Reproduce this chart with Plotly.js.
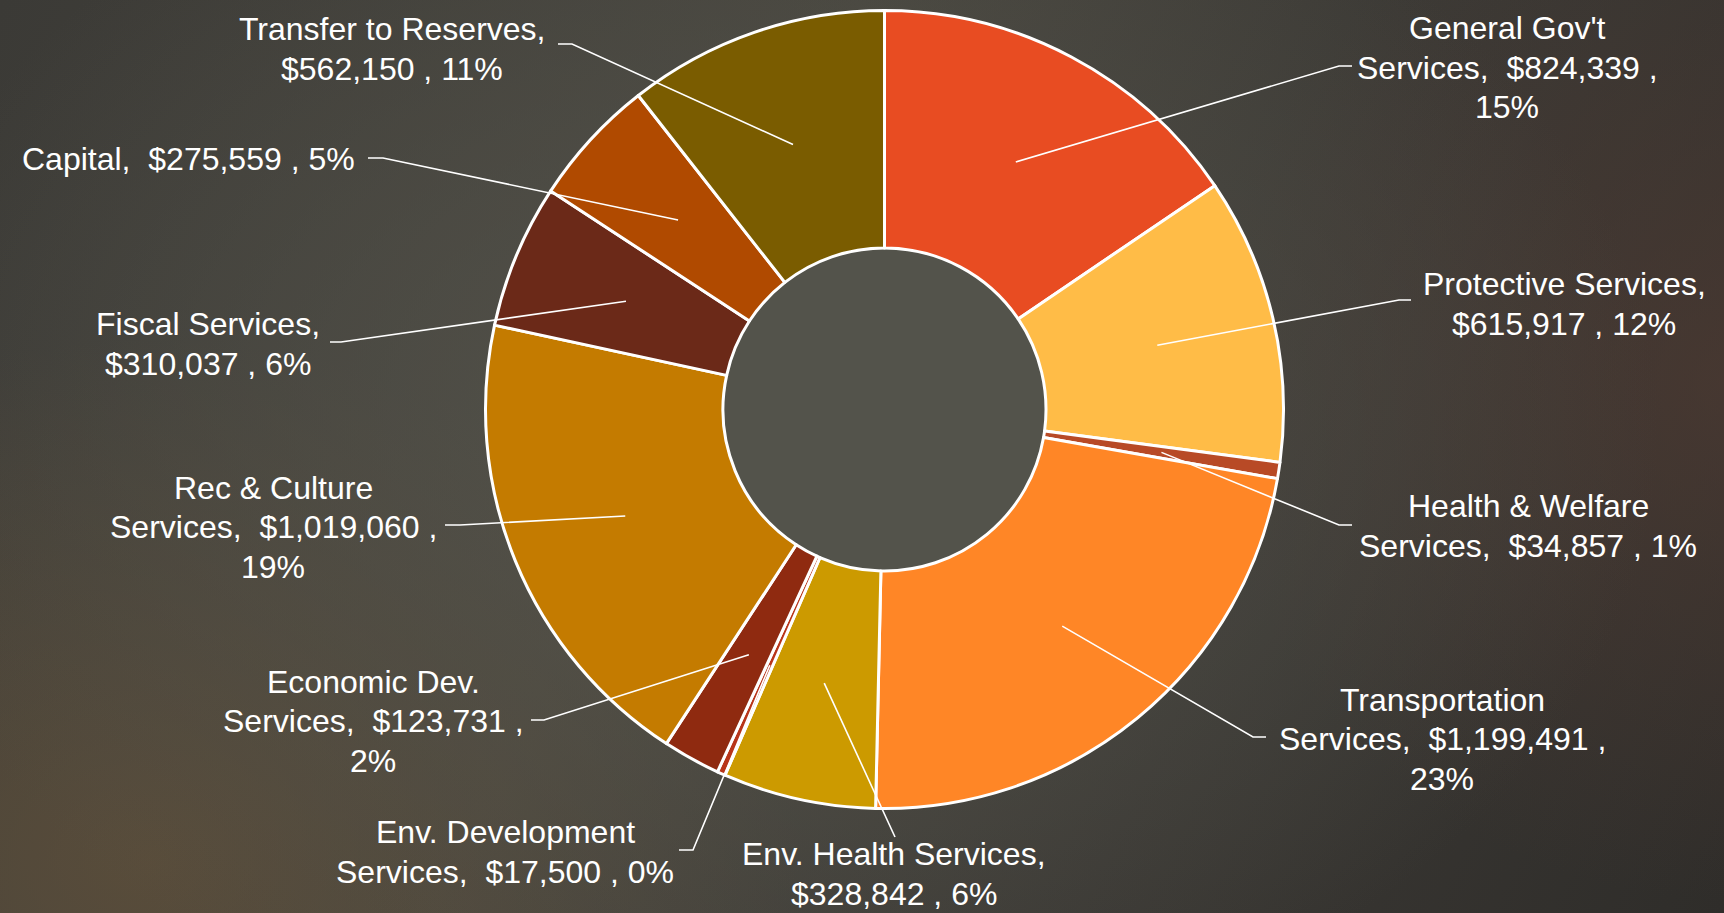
<!DOCTYPE html>
<html>
<head>
<meta charset="utf-8">
<script src="https://cdn.plot.ly/plotly-3.0.1.min.js"></script>
<style>
html, body { margin:0; padding:0; width:1724px; height:913px; overflow:hidden; }
body {
  background:
    radial-gradient(ellipse 900px 650px at 760px 430px, rgba(84,83,75,0.95) 0%, rgba(84,83,75,0) 100%),
    radial-gradient(ellipse 650px 520px at 150px 860px, rgba(96,80,58,0.75) 0%, rgba(96,80,58,0) 100%),
    radial-gradient(ellipse 520px 520px at 1724px 380px, rgba(78,58,50,0.7) 0%, rgba(78,58,50,0) 100%),
    linear-gradient(115deg, #3b3a36 0%, #47453e 40%, #3a3834 70%, #2f2d2a 100%);
}
#chart { width:1724px; height:913px; }
</style>
</head>
<body>
<div id="chart"></div>
<script>
// ---- data ----
const categories = ["General Gov't Services","Protective Services","Health & Welfare Services","Transportation Services","Env. Health Services","Env. Development Services","Economic Dev. Services","Rec & Culture Services","Fiscal Services","Capital","Transfer to Reserves"];
const amounts = [824339, 615917, 34857, 1199491, 328842, 17500, 123731, 1019060, 310037, 275559, 562150];
const percentLabels = ["15%","12%","1%","23%","6%","0%","2%","19%","6%","5%","11%"];

// ---- styles / layout ----
const sliceColors = ["#E84C22","#FFBC47","#B84A26","#FF8626","#CC9A00","#B8351A","#8F2A10","#C47B00","#6B2918","#B04A00","#7A5C00"];
const labelTemplates = [
  "General Gov't<br>Services,\u00A0 {v} ,<br>{p}",
  "Protective Services,<br>{v} , {p}",
  "Health &amp; Welfare<br>Services,\u00A0 {v} , {p}",
  "Transportation<br>Services,\u00A0 {v} ,<br>{p}",
  "Env. Health Services,<br>{v} , {p}",
  "Env. Development<br>Services,\u00A0 {v} , {p}",
  "Economic Dev.<br>Services,\u00A0 {v} ,<br>{p}",
  "Rec &amp; Culture<br>Services,\u00A0 {v} ,<br>{p}",
  "Fiscal Services,<br>{v} , {p}",
  "Capital,\u00A0 {v} , {p}",
  "Transfer to Reserves,<br>{v} , {p}"
];
// label centre (px) and leader elbow points (px)
const labelLayout = [
  {x:1507, y:68,  path:[[1339,66],[1352,66]]},
  {x:1564, y:304, path:[[1399,300],[1411,300]]},
  {x:1528, y:526, path:[[1339,525],[1352,525]]},
  {x:1442, y:739, path:[[1253,737],[1266,737]]},
  {x:894,  y:874, path:[[895,837]]},
  {x:505,  y:852, path:[[693,850],[679,850]]},
  {x:373,  y:721, path:[[544,720],[531,720]]},
  {x:273,  y:527, path:[[460,525],[445,525]]},
  {x:208,  y:344, path:[[341,342],[330,342]]},
  {x:188,  y:159, path:[[383,158],[368,158]]},
  {x:392,  y:49,  path:[[572,44],[558,44]]}
];
const LINE_GAP = 39.5;

const W = 1724, H = 913;
const CX = 884.5, CY = 409.5, R = 399, RIN = 161.5;
const px = x => x / W;
const py = y => 1 - y / H;

const total = amounts.reduce((a,b)=>a+b,0);
const fmt = v => '$' + v.toLocaleString('en-US');

// anchors at mid-ring, slice mid-angle (clockwise from 12 o'clock)
const rMid = (R + RIN) / 2;
let cum = 0;
const anchors = amounts.map(v => {
  const mid = (cum + v/2) / total * 2 * Math.PI;
  cum += v;
  return [CX + rMid*Math.sin(mid), CY - rMid*Math.cos(mid)];
});

const shapes = [{
  type:'circle', xref:'paper', yref:'paper', layer:'below',
  x0:px(CX-RIN), x1:px(CX+RIN), y0:py(CY+RIN), y1:py(CY-RIN),
  fillcolor:'#53534b', line:{width:0}
}];
const annotations = [];
labelLayout.forEach((L, i) => {
  const pts = [anchors[i]].concat(L.path);
  const d = pts.map((p,k) => (k===0?'M':'L') + px(p[0]) + ',' + py(p[1])).join(' ');
  shapes.push({type:'path', xref:'paper', yref:'paper', layer:'above', path:d,
    line:{color:'#ffffff', width:1.6}});
  const lines = labelTemplates[i].replace('{v}', fmt(amounts[i])).replace('{p}', percentLabels[i]).split('<br>');
  lines.forEach((t, k) => {
    annotations.push({
      xref:'paper', yref:'paper', x:px(L.x), y:py(L.y + (k - (lines.length-1)/2) * LINE_GAP),
      xanchor:'center', yanchor:'middle', showarrow:false, align:'center',
      text: t,
      font:{family:'Liberation Sans, Arial, sans-serif', size:32, color:'#ffffff'}
    });
  });
});

const trace = {
  type:'pie', labels:categories, values:amounts, sort:false, direction:'clockwise', rotation:0,
  hole: RIN / R,
  marker:{colors:sliceColors, line:{color:'#ffffff', width:3}},
  textinfo:'none', hoverinfo:'skip', showlegend:false,
  domain:{x:[px(CX-R), px(CX+R)], y:[py(CY+R), py(CY-R)]}
};

Plotly.newPlot('chart', [trace], {
  width:W, height:H, margin:{l:0,r:0,t:0,b:0},
  paper_bgcolor:'rgba(0,0,0,0)', plot_bgcolor:'rgba(0,0,0,0)',
  showlegend:false, shapes:shapes, annotations:annotations
}, {displayModeBar:false, staticPlot:true});
</script>
</body>
</html>
